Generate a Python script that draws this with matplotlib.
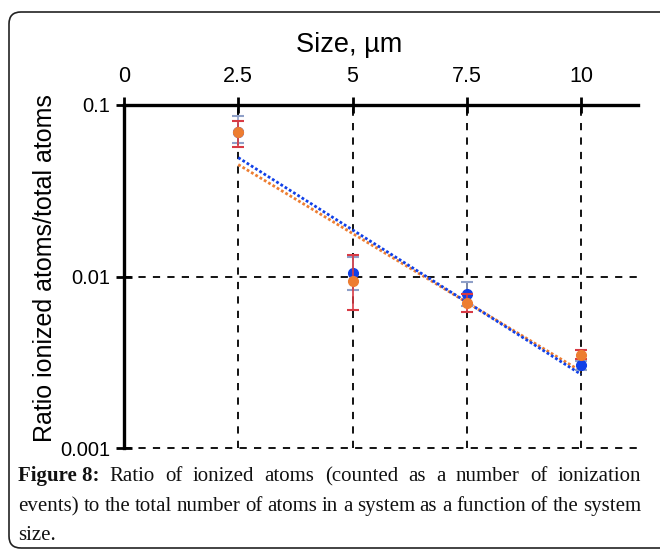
import numpy as np
import matplotlib
matplotlib.use("Agg")
import matplotlib.pyplot as plt
from matplotlib.patches import FancyBboxPatch

# data
sizes = [2.5, 5.0, 7.5, 10.0]
ratio_orange = [0.0693, 0.00936, 0.0070, 0.00350]
orange_err_low = [0.0572, 0.00634, 0.00617, 0.00330]
orange_err_high = [0.0807, 0.01337, 0.0079, 0.00374]
ratio_blue = [0.0700, 0.01047, 0.00793, 0.00303]
blue_err_low = [0.0603, 0.00837, 0.0067, 0.00285]
blue_err_high = [0.0863, 0.0130, 0.00935, 0.00320]
x_ticks = [0, 2.5, 5, 7.5, 10]
x_labels = ["0", "2.5", "5", "7.5", "10"]
y_ticks = [0.001, 0.01, 0.1]
y_labels = ["0.001", "0.01", "0.1"]

ORANGE = "#ED7D31"
BLUE = "#1040E8"
RED = "#D83B45"
LIGHTBLUE = "#8FA0C8"

W, H = 660, 551
fig = plt.figure(figsize=(W / 100, H / 100), dpi=100)
plt.rcParams["font.family"] = ["Liberation Sans", "DejaVu Sans"]

# rounded frame round the figure + caption (right side runs off the page)
frame = FancyBboxPatch((9 / W, 3 / H), 700 / W, (H - 12 - 3) / H,
                       boxstyle="round,pad=0,rounding_size=0.018",
                       transform=fig.transFigure, fill=False,
                       ec="#222222", lw=1.2, mutation_aspect=W / H)
fig.patches.append(frame)

ax = fig.add_axes([124 / W, 1 - 448 / H, (638 - 124) / W, (448 - 105) / H])
ax.set_yscale("log")
ax.set_xlim(0, 11.247)
ax.set_ylim(0.001, 0.1)

# trend lines (log-linear fit of each series)
xs = np.array(sizes)
for vals, col in [(ratio_orange, ORANGE), (ratio_blue, BLUE)]:
    k, b = np.polyfit(xs, np.log10(vals), 1)
    ax.plot([xs[0], xs[-1]], 10 ** (k * np.array([xs[0], xs[-1]]) + b),
            ls=(0, (1, 0.8)), color=col, lw=2, zorder=3)

yerr_b = [np.array(ratio_blue) - np.array(blue_err_low),
          np.array(blue_err_high) - np.array(ratio_blue)]
ax.errorbar(sizes, ratio_blue, yerr=yerr_b, fmt="o", color=BLUE, ms=7,
            ecolor=LIGHTBLUE, elinewidth=1.2, capsize=4.5, capthick=1.5, zorder=4)
yerr_o = [np.array(ratio_orange) - np.array(orange_err_low),
          np.array(orange_err_high) - np.array(ratio_orange)]
ax.errorbar(sizes, ratio_orange, yerr=yerr_o, fmt="o", color=ORANGE, ms=7,
            ecolor=RED, elinewidth=1.2, capsize=4.5, capthick=1.5, zorder=5)

# axes styling
for side in ["bottom", "right"]:
    ax.spines[side].set_visible(False)
for side in ["top", "left"]:
    ax.spines[side].set_linewidth(2.4)
ax.xaxis.tick_top()
ax.set_xticks(x_ticks)
ax.set_xticklabels(x_labels, fontsize=15.5)
ax.set_yticks(y_ticks)
ax.set_yticklabels(y_labels, fontsize=14.5)
ax.yaxis.set_minor_locator(matplotlib.ticker.NullLocator())
ax.tick_params(axis="x", direction="inout", length=12, width=2, pad=7)
ax.tick_params(axis="y", direction="inout", length=12, width=2, pad=4)

for xv in x_ticks[1:]:
    ax.axvline(xv, color="k", lw=1.3, ls=(0, (4, 4)), zorder=1)
for yv in y_ticks[:-1]:
    ax.axhline(yv, color="k", lw=1.3, ls=(0, (4, 4)), zorder=1, clip_on=False)

fig.text(349 / W, 1 - 45 / H, "Size, µm", ha="center", va="center", fontsize=19.5)
fig.text(45 / W, 1 - 268 / H, "Ratio ionized atoms/total atoms", rotation=90,
         ha="center", va="center", fontsize=18)

# caption, justified like the source page
cap_lines = [
    [("Figure 8:", "bold"), ("Ratio", "normal"), ("of", "normal"), ("ionized", "normal"),
     ("atoms", "normal"), ("(counted", "normal"), ("as", "normal"), ("a", "normal"),
     ("number", "normal"), ("of", "normal"), ("ionization", "normal")],
    [(w, "normal") for w in "events) to the total number of atoms in a system as a function of the system".split()],
    [("size.", "normal")],
]
cap_baseline = [481, 511, 540]
left_px, right_px = 18, 641
fig.canvas.draw()
renderer = fig.canvas.get_renderer()
for i, (words, yb) in enumerate(zip(cap_lines, cap_baseline)):
    arts = []
    for w, wt in words:
        t = fig.text(0, 1 - yb / H, w, fontsize=15, weight=wt, ha="left", va="baseline",
                     family=["Liberation Serif", "DejaVu Serif"], color="#111111")
        arts.append(t)
    widths = [a.get_window_extent(renderer).width for a in arts]
    if i < 2:
        gap = (right_px - left_px - sum(widths)) / (len(arts) - 1)
    else:
        gap = 4
    xpos = left_px
    for a, wd in zip(arts, widths):
        a.set_x(xpos / W)
        xpos += wd + gap

fig.savefig("out.png", dpi=100)
